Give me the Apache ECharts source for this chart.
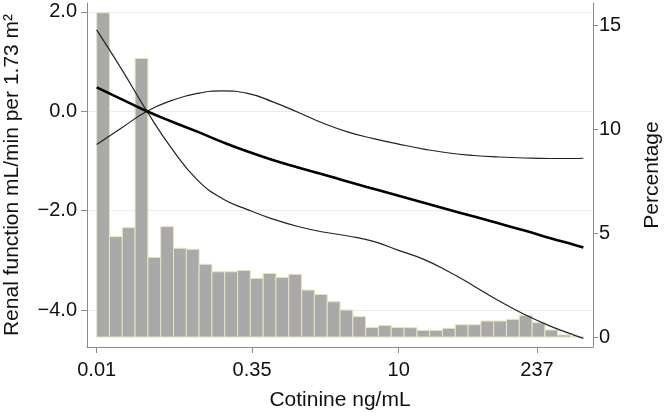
<!DOCTYPE html>
<html>
<head>
<meta charset="utf-8">
<script src="https://cdn.jsdelivr.net/npm/echarts@6/dist/echarts.min.js"></script>
<style>
  html, body { margin: 0; padding: 0; background: #fff; }
  #chart { width: 667px; height: 418px; }
</style>
</head>
<body>
<div id="chart"></div>
<script>
var cotinine = [0.01, 0.0178, 0.0316, 0.0562, 0.1, 0.178, 0.316, 0.562, 1, 1.78, 3.16,
  5.62, 10, 17.8, 31.6, 56.2, 100, 178, 316, 562, 684];
// difference in renal function (mL/min per 1.73 m2)
var estimate = [0.48, 0.24, 0.0, -0.21, -0.41, -0.62, -0.81, -0.98, -1.13, -1.27, -1.42,
  -1.56, -1.70, -1.84, -1.98, -2.12, -2.26, -2.40, -2.55, -2.69, -2.74];
var upperCI = [-0.67, -0.33, 0.0, 0.22, 0.36, 0.41, 0.36, 0.19, -0.02, -0.24, -0.42,
  -0.55, -0.66, -0.76, -0.84, -0.89, -0.92, -0.94, -0.95, -0.95, -0.945];
var lowerCI = [1.64, 0.84, 0.0, -0.76, -1.38, -1.76, -1.98, -2.17, -2.32, -2.43, -2.51,
  -2.62, -2.80, -2.98, -3.23, -3.52, -3.82, -4.09, -4.32, -4.51, -4.57];

// histogram of cotinine, equal bins on log scale between these limits
var histFrom = 0.01;
var histTo = 684;
var percentage = [15.6, 4.83, 5.26, 13.4, 3.83, 5.31, 4.27, 4.22, 3.50, 3.14, 3.14, 3.20,
  2.82, 3.06, 2.87, 3.02, 2.26, 2.05, 1.70, 1.30, 0.98, 0.46, 0.55, 0.46, 0.45, 0.32,
  0.32, 0.42, 0.59, 0.59, 0.77, 0.77, 0.85, 1.03, 0.69, 0.34, 0.10, 0.03];

var xTicks = [0.01, 0.35, 10, 237];
var xTickLabels = ['0.01', '0.35', '10', '237'];
var leftTicks = [-4, -2, 0, 2];
var rightTicks = [0, 5, 10, 15];

var FONT = '"Liberation Sans", Arial, sans-serif';
var AXIS_GREY = '#8c8c8c';

var lo = Math.log10(histFrom);
var step = (Math.log10(histTo) - lo) / percentage.length;
var bins = percentage.map(function (p, i) {
  return [lo + i * step, lo + (i + 1) * step, p];
});

function curve(vals) {
  return cotinine.map(function (c, i) { return [Math.log10(c), vals[i]]; });
}

var xTickLogs = xTicks.map(function (v) { return Math.log10(v); });

var chart = echarts.init(document.getElementById('chart'));

var option = {
  animation: false,
  backgroundColor: '#fff',
  textStyle: { fontFamily: FONT },
  grid: { left: 87, right: 74, top: 3, bottom: 71, containLabel: false, outerBoundsMode: 'none' },
  xAxis: {
    type: 'value',
    min: -2.096,
    max: 2.931,
    name: 'Cotinine ng/mL',
    nameLocation: 'middle',
    nameGap: 43,
    nameTextStyle: { fontSize: 21, color: '#111', fontFamily: FONT },
    axisLine: { show: true, onZero: false, lineStyle: { color: AXIS_GREY, width: 1 } },
    axisTick: { show: true, length: 6, customValues: xTickLogs, lineStyle: { color: AXIS_GREY } },
    axisLabel: {
      customValues: xTickLogs,
      margin: 13,
      fontSize: 20,
      color: '#111',
      fontFamily: FONT,
      formatter: function (v) {
        for (var i = 0; i < xTickLogs.length; i++) {
          if (Math.abs(xTickLogs[i] - v) < 1e-6) return xTickLabels[i];
        }
        return '';
      }
    },
    splitLine: { show: false }
  },
  yAxis: [
    {
      type: 'value',
      position: 'left',
      min: -4.745,
      max: 2.18,
      name: 'Renal function mL/min per 1.73 m\u00b2',
      nameLocation: 'middle',
      nameGap: 64,
      nameRotate: 90,
      nameTextStyle: { fontSize: 21, color: '#111', fontFamily: FONT },
      axisLine: { show: true, onZero: false, lineStyle: { color: AXIS_GREY, width: 1 } },
      axisTick: { show: true, length: 6, customValues: leftTicks, lineStyle: { color: AXIS_GREY } },
      axisLabel: {
        customValues: leftTicks,
        margin: 10,
        fontSize: 20,
        color: '#111',
        fontFamily: FONT,
        formatter: function (v) { return v.toFixed(1).replace('-', '\u2212'); }
      },
      splitLine: { show: true, lineStyle: { color: '#e6eeee', width: 1 } }
    },
    {
      type: 'value',
      position: 'right',
      min: -0.48,
      max: 16.07,
      name: 'Percentage',
      nameLocation: 'middle',
      nameGap: 49,
      nameRotate: 90,
      nameTextStyle: { fontSize: 21, color: '#111', fontFamily: FONT },
      axisLine: { show: true, onZero: false, lineStyle: { color: AXIS_GREY, width: 1 } },
      axisTick: { show: true, length: 5, customValues: rightTicks, lineStyle: { color: AXIS_GREY } },
      axisLabel: {
        customValues: rightTicks,
        margin: 6,
        fontSize: 20,
        color: '#111',
        fontFamily: FONT
      },
      splitLine: { show: false }
    }
  ],
  series: [
    {
      type: 'custom',
      xAxisIndex: 0,
      yAxisIndex: 1,
      data: bins,
      encode: { x: [0, 1], y: 2 },
      z: 1,
      renderItem: function (params, api) {
        var top = api.coord([api.value(0), api.value(2)]);
        var base = api.coord([api.value(1), 0]);
        return {
          type: 'rect',
          shape: { x: top[0], y: top[1], width: base[0] - top[0], height: base[1] - top[1] },
          style: { fill: '#a9a9a9', stroke: '#ebe5b3', lineWidth: 1 }
        };
      }
    },
    {
      type: 'line', yAxisIndex: 0, data: curve(upperCI), smooth: true,
      showSymbol: false, z: 3,
      lineStyle: { color: '#222', width: 1.2 }
    },
    {
      type: 'line', yAxisIndex: 0, data: curve(lowerCI), smooth: true,
      showSymbol: false, z: 3,
      lineStyle: { color: '#222', width: 1.2 }
    },
    {
      type: 'line', yAxisIndex: 0, data: curve(estimate), smooth: true,
      showSymbol: false, z: 4,
      lineStyle: { color: '#000', width: 2.6 }
    }
  ]
};

chart.setOption(option);
</script>
</body>
</html>
